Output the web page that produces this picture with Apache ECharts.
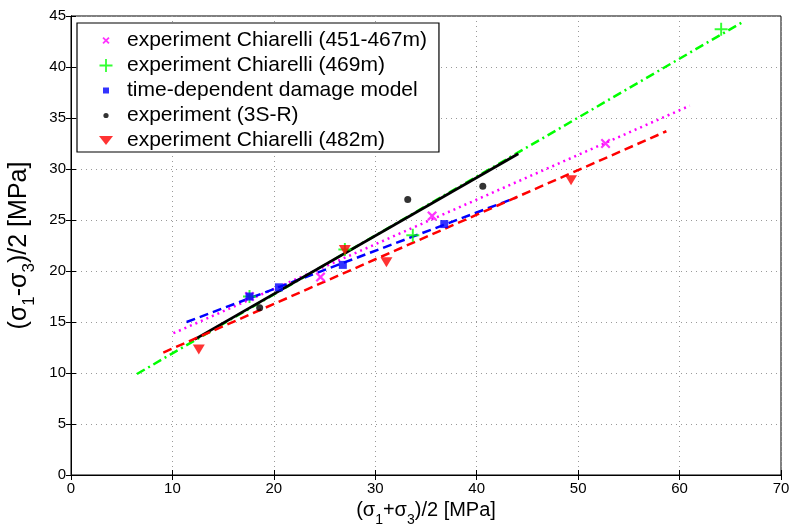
<!DOCTYPE html>
<html>
<head>
<meta charset="utf-8">
<title>Stress path comparison</title>
<script src="https://cdn.jsdelivr.net/npm/echarts@6/dist/echarts.min.js"></script>
<style>
  html, body { margin: 0; padding: 0; background: #ffffff; }
  #chart { width: 796px; height: 532px; }
</style>
</head>
<body>
<div id="chart"></div>
<script>
// Axis ticks
var xTicks = [0, 10, 20, 30, 40, 50, 60, 70];
var yTicks = [0, 5, 10, 15, 20, 25, 30, 35, 40, 45];

// Measured points: [(s1+s3)/2, (s1-s3)/2] in MPa
var chiarelli451 = [[17.6, 17.5], [24.6, 19.4], [35.6, 25.4], [52.7, 32.5]];
var chiarelli469 = [[17.6, 17.5], [27.0, 22.1], [33.7, 23.5], [64.1, 43.7]];
var damageModel  = [[17.6, 17.5], [20.5, 18.4], [26.8, 20.6], [36.8, 24.6]];
var exp3SR       = [[18.6, 16.4], [33.2, 27.0], [40.6, 28.3]];
var chiarelli482 = [[12.6, 12.3], [27.0, 22.05], [31.1, 20.85], [49.3, 28.9]];

// Linear fit lines (end points)
var fit451   = [[10.1, 13.9], [61.0, 36.2]];
var fit469   = [[6.5, 9.9], [66.2, 44.4]];
var fitModel = [[11.4, 15.0], [43.9, 27.2]];
var fit3SR   = [[12.2, 13.3], [44.1, 31.5]];
var fit482   = [[9.1, 12.0], [58.7, 33.7]];

var names = [
  'experiment Chiarelli (451-467m)',
  'experiment Chiarelli (469m)',
  'time-dependent damage model',
  'experiment (3S-R)',
  'experiment Chiarelli (482m)'
];

var FONT = '"Liberation Sans", Arial, Helvetica, sans-serif';

// Filled outline of a plus sign centred at (cx, cy): half-length h, half-thickness t
function plusPath(cx, cy, h, t) {
  return 'M' + (cx - t) + ',' + (cy - h) + ' L' + (cx + t) + ',' + (cy - h) +
    ' L' + (cx + t) + ',' + (cy - t) + ' L' + (cx + h) + ',' + (cy - t) +
    ' L' + (cx + h) + ',' + (cy + t) + ' L' + (cx + t) + ',' + (cy + t) +
    ' L' + (cx + t) + ',' + (cy + h) + ' L' + (cx - t) + ',' + (cy + h) +
    ' L' + (cx - t) + ',' + (cy + t) + ' L' + (cx - h) + ',' + (cy + t) +
    ' L' + (cx - h) + ',' + (cy - t) + ' L' + (cx - t) + ',' + (cy - t) + ' Z';
}
// Filled diagonal cross centred at (cx, cy): arms reach +-h, half-thickness t
function crossPoly(cx, cy, h, t) {
  var a = t * Math.SQRT2;
  function p(x, y) { return (cx + x).toFixed(2) + ',' + (cy + y).toFixed(2); }
  return 'M' + p(-h, -h + a) + ' L' + p(-h + a, -h) + ' L' + p(0, -a) +
    ' L' + p(h - a, -h) + ' L' + p(h, -h + a) + ' L' + p(a, 0) +
    ' L' + p(h, h - a) + ' L' + p(h - a, h) + ' L' + p(0, a) +
    ' L' + p(-h + a, h) + ' L' + p(-h, h - a) + ' L' + p(-a, 0) + ' Z';
}

// Plot markers
var CROSS = 'path://' + crossPoly(5, 5, 5, 1.1);
var PLUS = 'path://' + plusPath(5, 5, 5, 0.75);

// Legend icons drawn inside a 32 x 14 frame so each keeps its own size
var LW = 32, LH = 14, LC = 16, LM = 7;
var frame = 'M0,0 M' + LW + ',' + LH + ' ';
var legendIcons = [
  'path://' + frame + crossPoly(LC, LM, 3.6, 0.9),
  'path://' + frame + plusPath(LC, LM, 6.5, 0.9),
  'path://' + frame + 'M' + (LC - 3) + ',' + (LM - 3) + ' L' + (LC + 3) + ',' + (LM - 3) +
    ' L' + (LC + 3) + ',' + (LM + 3) + ' L' + (LC - 3) + ',' + (LM + 3) + ' Z',
  'path://' + frame + 'M' + (LC - 2.6) + ',' + LM + ' A2.6,2.6 0 1 1 ' + (LC + 2.6) + ',' + LM +
    ' A2.6,2.6 0 1 1 ' + (LC - 2.6) + ',' + LM + ' Z',
  'path://' + frame + 'M' + (LC - 7) + ',' + (LM - 4.5) + ' L' + (LC + 7) + ',' + (LM - 4.5) +
    ' L' + LC + ',' + (LM + 4.5) + ' Z'
];

var chart = echarts.init(document.getElementById('chart'), null, { renderer: 'canvas' });

function fitLine(data, color, type, width) {
  return {
    type: 'line', data: data, xAxisIndex: 0, yAxisIndex: 0,
    showSymbol: false, symbol: 'none', silent: true,
    lineStyle: { color: color, width: width || 2.5, type: type },
    z: 3
  };
}

var labelRich = function (size, subSize, drop) {
  return {
    n: { fontFamily: FONT, fontSize: size, color: '#000', verticalAlign: 'top' },
    s: { fontFamily: FONT, fontSize: subSize, color: '#000', verticalAlign: 'top', padding: [drop, 0, 0, 0] }
  };
};

var option = {
  backgroundColor: '#ffffff',
  animation: false,
  textStyle: { fontFamily: FONT },
  grid: {
    left: 71, right: 15, top: 16, bottom: 57,
    show: true, borderColor: '#000', borderWidth: 1,
    containLabel: false, outerBoundsMode: 'none'
  },
  legend: {
    data: names.map(function (n, i) { return { name: n, icon: legendIcons[i] }; }),
    orient: 'vertical',
    left: 77, top: 23,
    backgroundColor: '#ffffff',
    borderColor: '#000', borderWidth: 1.2, borderRadius: 0,
    padding: [7, 12, 1, 13],
    itemWidth: LW, itemHeight: LH, itemGap: 4,
    symbolRotate: 0,
    textStyle: { fontFamily: FONT, fontSize: 21, color: '#000' }
  },
  xAxis: [{
    type: 'value', min: 0, max: 70, interval: 10, position: 'bottom',
    name: '{n|(σ}{s|1}{n|+σ}{s|3}{n|)/2 [MPa]}',
    nameLocation: 'middle', nameGap: 23,
    nameTextStyle: { rich: labelRich(20, 14, 12) },
    axisLine: { show: true, onZero: false, lineStyle: { color: '#000', width: 1 } },
    axisTick: { show: true, inside: true, length: 5, lineStyle: { color: '#000' } },
    axisLabel: { fontFamily: FONT, fontSize: 15, color: '#000', margin: 6,
      formatter: function (v) { return xTicks.indexOf(v) >= 0 ? String(v) : ''; } },
    splitLine: { show: true, lineStyle: { color: '#9a9a9a', type: [1, 4], width: 1 } }
  }, {
    type: 'value', min: 0, max: 70, interval: 10, position: 'top',
    axisLine: { show: true, lineStyle: { color: '#000' } },
    axisTick: { show: true, inside: true, length: 5, lineStyle: { color: '#000' } },
    axisLabel: { show: false }, splitLine: { show: false }
  }],
  yAxis: [{
    type: 'value', min: 0, max: 45, interval: 5, position: 'left',
    name: '{n|(σ}{s|1}{n|-σ}{s|3}{n|)/2 [MPa]}',
    nameLocation: 'middle', nameGap: 33, nameRotate: 90,
    nameTextStyle: { rich: labelRich(25, 17, 14) },
    axisLine: { show: true, onZero: false, lineStyle: { color: '#000', width: 1 } },
    axisTick: { show: true, inside: true, length: 5, lineStyle: { color: '#000' } },
    axisLabel: { fontFamily: FONT, fontSize: 15, color: '#000', margin: 5,
      formatter: function (v) { return yTicks.indexOf(v) >= 0 ? String(v) : ''; } },
    splitLine: { show: true, lineStyle: { color: '#9a9a9a', type: [1, 4], width: 1 } }
  }, {
    type: 'value', min: 0, max: 45, interval: 5, position: 'right',
    axisLine: { show: true, lineStyle: { color: '#000' } },
    axisTick: { show: true, inside: true, length: 5, lineStyle: { color: '#000' } },
    axisLabel: { show: false }, splitLine: { show: false }
  }],
  series: [
    { name: names[0], type: 'scatter', data: chiarelli451, symbol: CROSS, symbolSize: 10,
      itemStyle: { color: '#ff00ff' }, z: 4 },
    { name: names[1], type: 'scatter', data: chiarelli469, symbol: PLUS, symbolSize: 13,
      itemStyle: { color: '#00ff00' }, z: 4 },
    { name: names[2], type: 'scatter', data: damageModel, symbol: 'rect', symbolSize: 8,
      itemStyle: { color: '#0000ff' }, z: 4 },
    { name: names[3], type: 'scatter', data: exp3SR, symbol: 'circle', symbolSize: 7,
      itemStyle: { color: '#000000' }, z: 4 },
    { name: names[4], type: 'scatter', data: chiarelli482, symbol: 'triangle', symbolRotate: 180, symbolSize: [12, 10],
      itemStyle: { color: '#ff0000' }, z: 4 },
    fitLine(fit451, '#ff00ff', [2, 4]),
    fitLine(fit469, '#00ff00', [9, 4, 2, 4]),
    fitLine(fitModel, '#0000ff', [9, 5]),
    fitLine(fit3SR, '#000000', 'solid', 2.8),
    fitLine(fit482, '#ff0000', [9, 5])
  ]
};

chart.setOption(option);
</script>
</body>
</html>
